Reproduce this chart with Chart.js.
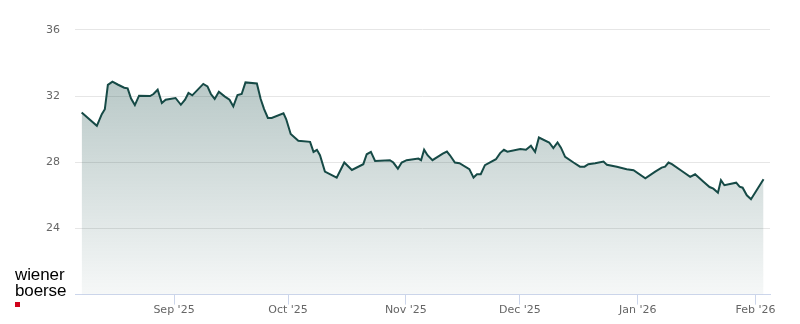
<!DOCTYPE html>
<html>
<head>
<meta charset="utf-8">
<script src="https://cdn.jsdelivr.net/npm/chart.js@4/dist/chart.umd.min.js"></script>
<style>
  html, body { margin: 0; padding: 0; background: #ffffff; }
  #wrap { position: relative; width: 800px; height: 324px; }
  #logo {
    position: absolute; left: 15px; top: 267px;
    font-family: "Liberation Sans", Arial, sans-serif;
    font-size: 17px; line-height: 15.5px; color: #000000;
    letter-spacing: -0.1px;
  }
  #logo .sq { display: block; width: 4.5px; height: 4.5px; background: #d0021b; margin-top: 4px; }
</style>
</head>
<body>
<div id="wrap">
  <canvas id="c" width="800" height="324"></canvas>
  <div id="logo">wiener<br>boerse<span class="sq"></span></div>
</div>
<script>
// Time positions: days since 1 Sep 2025
const dayOffsets = [
  -24.3, -20.3, -19.0, -18.2, -17.4, -16.2, -14.7, -13.1, -12.2, -11.3,
  -10.3, -9.2, -6.3, -5.4, -4.3, -3.2, -2.2, 0.4, 1.8, 2.9,
  3.8, 4.8, 7.7, 8.8, 9.7, 10.7, 11.8, 13.3, 14.6, 15.6,
  16.7, 17.8, 18.8, 21.8, 22.8, 23.7, 24.7, 25.7, 28.8, 29.5,
  30.7, 32.7, 35.8, 36.7, 37.6, 38.4, 39.7, 42.8, 44.8, 46.8,
  49.8, 50.7, 51.8, 52.9, 56.8, 57.7, 58.9, 59.9, 61.2, 64.3,
  65.0, 65.8, 66.7, 68.0, 70.7, 71.8, 72.6, 73.9, 75.1, 77.7,
  78.8, 79.7, 80.7, 81.8, 84.7, 85.8, 86.8, 87.7, 91.1, 92.6,
  93.9, 95.0, 96.0, 98.7, 99.8, 100.9, 101.8, 102.9, 105.1, 106.8,
  108.0, 109.0, 110.8, 113.0, 113.9, 116.5, 119.1, 120.9, 124.0, 126.6,
  128.3, 129.2, 130.1, 131.0, 133.6, 135.8, 137.1, 139.3, 140.9, 141.9,
  143.1, 143.9, 144.8, 147.9, 148.8, 149.6, 150.7, 151.8, 155.1
];
const prices = [
  31.00, 30.20, 30.90, 31.20, 32.67, 32.87, 32.68, 32.50, 32.46, 31.85,
  31.45, 32.02, 32.00, 32.12, 32.38, 31.58, 31.78, 31.88, 31.47, 31.78,
  32.18, 32.04, 32.73, 32.58, 32.12, 31.82, 32.26, 31.98, 31.78, 31.37,
  32.06, 32.12, 32.82, 32.76, 31.82, 31.21, 30.67, 30.67, 30.95, 30.61,
  29.70, 29.29, 29.23, 28.62, 28.75, 28.42, 27.43, 27.07, 27.98, 27.53,
  27.88, 28.48, 28.62, 28.08, 28.12, 27.98, 27.61, 27.98, 28.12, 28.22,
  28.12, 28.76, 28.42, 28.12, 28.52, 28.64, 28.42, 27.98, 27.94, 27.58,
  27.07, 27.27, 27.27, 27.82, 28.18, 28.55, 28.75, 28.64, 28.79, 28.75,
  28.99, 28.62, 29.49, 29.19, 28.85, 29.19, 28.88, 28.32, 27.98, 27.73,
  27.73, 27.88, 27.94, 28.04, 27.84, 27.72, 27.58, 27.52, 27.03, 27.43,
  27.67, 27.73, 27.98, 27.88, 27.47, 27.11, 27.27, 26.82, 26.50, 26.40,
  26.16, 26.91, 26.61, 26.76, 26.52, 26.46, 26.00, 25.76, 26.97
];
const monthTickDays = [0, 30, 61, 91, 122, 153];
const monthLabels = ["Sep '25", "Oct '25", "Nov '25", "Dec '25", "Jan '26", "Feb '26"];
const yTickValues = [20, 24, 28, 32, 36];

const points = dayOffsets.map((d, i) => ({ x: d, y: prices[i] }));

new Chart(document.getElementById('c'), {
  type: 'line',
  data: {
    datasets: [{
      data: points,
      borderColor: '#164a46',
      borderWidth: 2,
      pointRadius: 0,
      pointHoverRadius: 0,
      tension: 0,
      fill: 'start',
      backgroundColor: (ctx) => {
        const area = ctx.chart.chartArea;
        if (!area) return 'rgba(22,74,70,0.2)';
        const g = ctx.chart.ctx.createLinearGradient(0, area.top + 50, 0, area.bottom);
        g.addColorStop(0, 'rgba(22,74,70,0.30)');
        g.addColorStop(1, 'rgba(22,74,70,0.04)');
        return g;
      }
    }]
  },
  options: {
    responsive: false,
    animation: false,
    devicePixelRatio: 1,
    layout: { padding: { top: 29.8, right: 30, bottom: 0, left: 0 } },
    plugins: { legend: { display: false }, tooltip: { enabled: false } },
    scales: {
      x: {
        type: 'linear',
        min: -26.05,
        max: 156.8,
        afterBuildTicks: (scale) => { scale.ticks = monthTickDays.map(v => ({ value: v })); },
        afterFit: (scale) => { scale.height = 29.4; },
        ticks: {
          autoSkip: false,
          maxRotation: 0,
          padding: -1,
          color: '#666666',
          font: { family: 'DejaVu Sans', size: 11 },
          callback: (value) => {
            const i = monthTickDays.indexOf(value);
            return i >= 0 ? monthLabels[i] : '';
          }
        },
        grid: { drawOnChartArea: false, drawTicks: true, tickLength: 10, color: '#ccd6eb', lineWidth: 1 },
        border: { display: true, color: '#ccd6eb', width: 1 }
      },
      y: {
        min: 20,
        max: 36,
        afterBuildTicks: (scale) => { scale.ticks = yTickValues.map(v => ({ value: v })); },
        afterFit: (scale) => { scale.width = 75; },
        ticks: {
          padding: 15,
          color: '#666666',
          font: { family: 'DejaVu Sans', size: 11 },
          callback: (value) => value === 20 ? '' : String(value)
        },
        grid: {
          drawTicks: false,
          color: (ctx) => ctx.tick && ctx.tick.value === 20 ? 'rgba(0,0,0,0)' : '#e6e6e6',
          lineWidth: 1
        },
        border: { display: false }
      }
    }
  }
});
</script>
</body>
</html>
